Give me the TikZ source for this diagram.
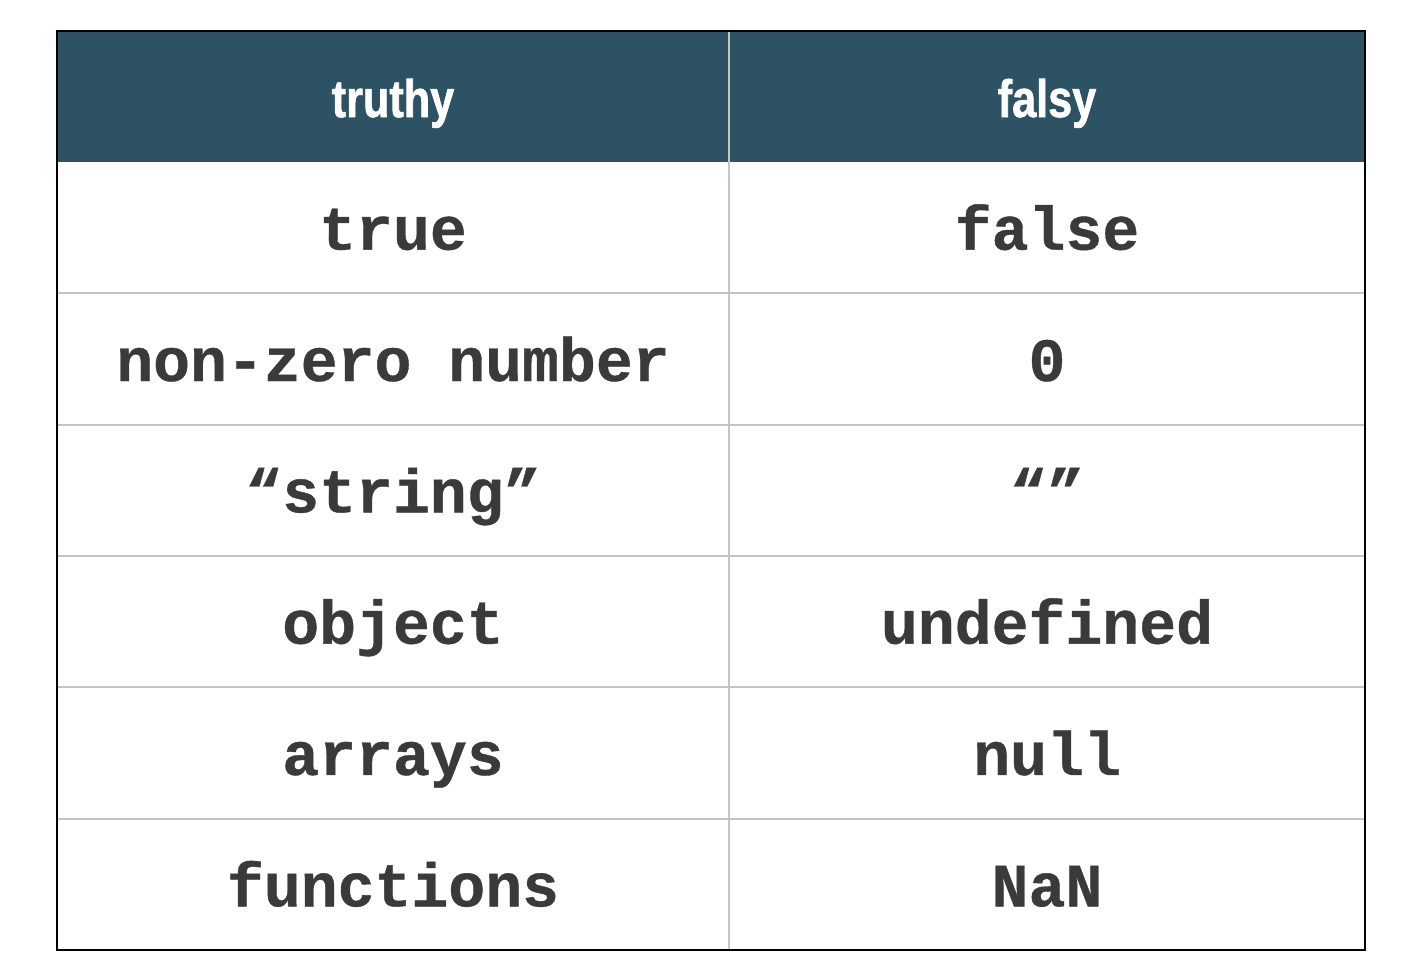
\documentclass[tikz,border=0pt]{standalone}
\usepackage{fontspec}
\newfontfamily\cellfont[BoldFeatures={FakeBold=0.6}]{Liberation Mono}
\newfontfamily\headfont[FakeStretch=0.82,BoldFeatures={FakeBold=1.2}]{Liberation Sans}
\definecolor{headteal}{HTML}{2C5264}
\definecolor{inkgray}{HTML}{3A3A3A}
\definecolor{gridgray}{HTML}{C4C4C4}
\begin{document}
\begin{tikzpicture}[x=0.02cm,y=-0.02cm,
  head/.style={anchor=base,inner sep=0pt,text=white,font=\headfont\bfseries\fontsize{30}{30}\selectfont},
  cell/.style={anchor=base,inner sep=0pt,text=inkgray,font=\cellfont\bfseries\fontsize{35}{35}\selectfont},
  gridline/.style={gridgray,line width=1.1pt}]
\newcommand{\RowH}{131.33}
\useasboundingbox (0,0) rectangle (1421,978);
        \fill[white] (0,0) rectangle (1421,978);
        \fill[headteal] (57,31) rectangle (1365,162);
        \node[head] (h1) at (393,117) {truthy};
        \node[head] (h2) at (1047,117) {falsy};
        \foreach \t/\f [count=\i] in {true/false,non-zero number/0,“string”/“”,object/undefined,arrays/null,functions/NaN} {
                \node[cell] (t\i) at (393,{162+\RowH*(\i-0.5)+22}) {\t};
                \node[cell] (f\i) at (1047,{162+\RowH*(\i-0.5)+22}) {\f};
		}
        \foreach \i in {1,...,5}
                \draw[gridline] (57,{162+\RowH*\i}) -- (1365,{162+\RowH*\i});
        \draw[gridline] (729,31) -- (729,950);
        \draw[black,line width=0.85pt] (57,31) rectangle (1365,950);
\end{tikzpicture}
\end{document}
